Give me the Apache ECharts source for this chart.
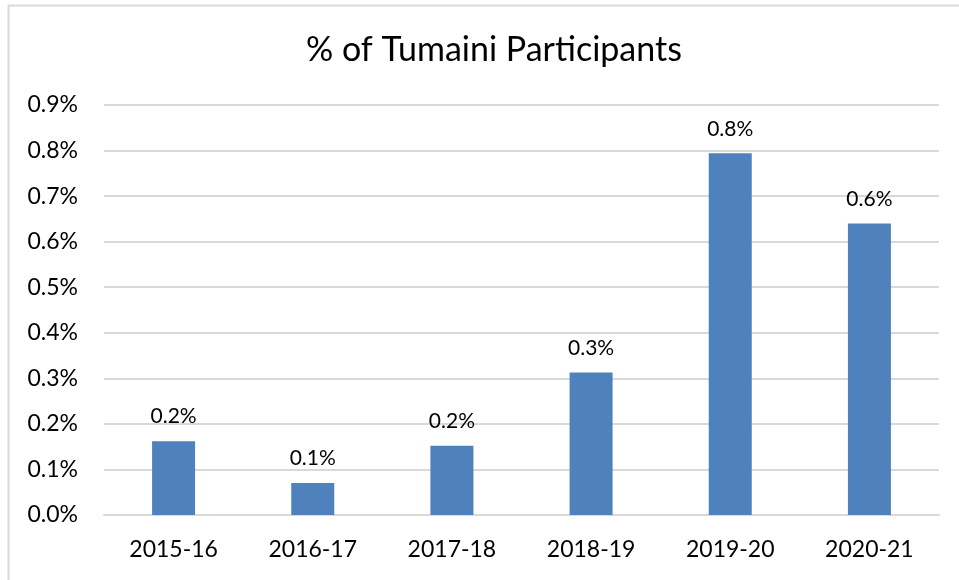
<!DOCTYPE html>
<html>
<head>
<meta charset="utf-8">
<script src="https://cdn.jsdelivr.net/npm/echarts@6/dist/echarts.min.js"></script>
<style>
html,body{margin:0;padding:0;background:#fff;}
#chart{width:959px;height:580px;}
</style>
</head>
<body>
<div id="chart"></div>
<script>
const title = "% of Tumaini Participants";
const categories = ["2015-16", "2016-17", "2017-18", "2018-19", "2019-20", "2020-21"];
const values = [0.162, 0.070, 0.152, 0.313, 0.794, 0.640];
const yTicks = [0, 0.1, 0.2, 0.3, 0.4, 0.5, 0.6, 0.7, 0.8, 0.9];

const FONT = "Lato";
const chart = echarts.init(document.getElementById('chart'), null, {renderer: 'canvas'});
chart.setOption({
  animation: false,
  backgroundColor: '#ffffff',
  title: {
    text: title,
    left: 301,
    top: 28,
    textStyle: {fontFamily: FONT, fontSize: 34, fontWeight: 'normal', color: '#000'}
  },
  graphic: [{
    type: 'rect',
    shape: {x: 8.5, y: 5.5, width: 1000, height: 1000},
    style: {fill: 'none', stroke: '#D9D9D9', lineWidth: 2},
    silent: true
  }],
  grid: {left: 104, right: 20, top: 105, bottom: 65, containLabel: false},
  xAxis: {
    type: 'category',
    data: categories,
    axisLine: {show: true, lineStyle: {color: '#D9D9D9', width: 2}},
    axisTick: {show: false},
    axisLabel: {fontFamily: FONT, fontSize: 23, color: '#000', margin: 23}
  },
  yAxis: {
    type: 'value',
    min: yTicks[0],
    max: yTicks[yTicks.length - 1],
    interval: 0.1,
    axisLine: {show: false},
    axisTick: {show: false},
    splitLine: {lineStyle: {color: '#D9D9D9', width: 2}},
    axisLabel: {
      fontFamily: FONT, fontSize: 23, color: '#000', margin: 26,
      formatter: v => v.toFixed(1) + '%'
    }
  },
  series: [{
    type: 'bar',
    data: values,
    barWidth: 43,
    itemStyle: {color: '#4F81BD'},
    label: {
      show: true,
      position: 'top',
      distance: 14,
      fontFamily: FONT,
      fontSize: 21,
      color: '#000',
      formatter: p => p.value.toFixed(1) + '%'
    }
  }]
});
</script>
</body>
</html>
